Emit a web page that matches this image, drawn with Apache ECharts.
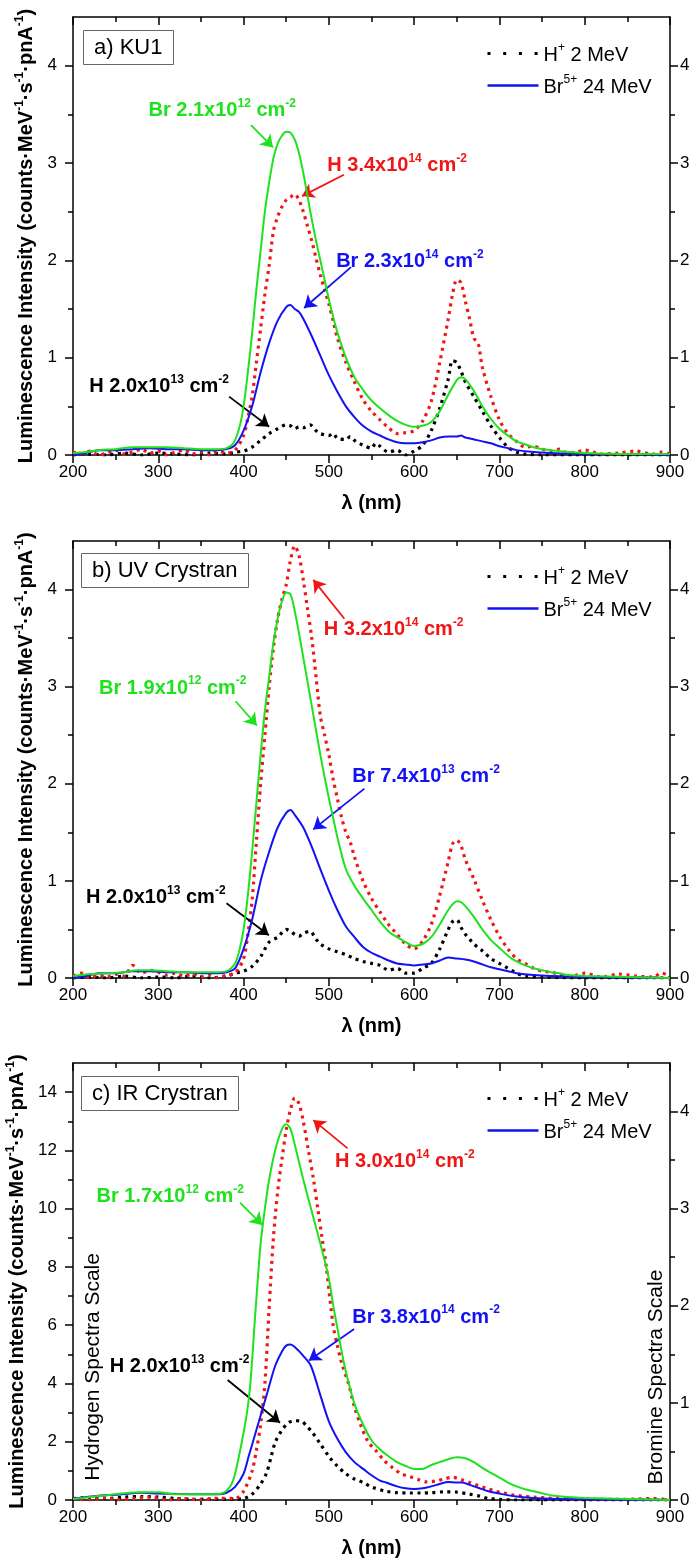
<!DOCTYPE html>
<html>
<head>
<meta charset="utf-8">
<script src="https://cdn.jsdelivr.net/npm/echarts@6/dist/echarts.min.js"></script>
<style>
html,body{margin:0;padding:0;background:#ffffff;}
#chart{width:696px;height:1563px;}
</style>
</head>
<body>
<div id="chart"></div>
<script>
// ---------------- DATA ----------------
const xTickValues = [200, 300, 400, 500, 600, 700, 800, 900];
const yTicksAB = [0, 1, 2, 3, 4];
const yMinorAB = [0.5, 1.5, 2.5, 3.5];
const yTicksCLeft = [0, 2, 4, 6, 8, 10, 12, 14];
const yMinorCLeft = [1, 3, 5, 7, 9, 11, 13];
const yTicksCRight = [0, 1, 2, 3, 4];
const yMinorCRight = [0.5, 1.5, 2.5, 3.5];

const panelLabels = ['a) KU1', 'b) UV Crystran', 'c) IR Crystran'];
const legendNames = ['H+ 2 MeV', 'Br5+ 24 MeV'];

// Panel a) KU1
const kuBrLow = [[200,0.02],[215,0.03],[230,0.05],[250,0.06],[270,0.08],[290,0.08],[310,0.08],[330,0.07],[350,0.06],[370,0.06],[380,0.07],[388,0.12],[395,0.28],[400,0.5],[405,0.85],[410,1.25],[415,1.7],[420,2.1],[425,2.5],[430,2.8],[435,3.05],[440,3.2],[445,3.28],[450,3.32],[455,3.31],[460,3.24],[465,3.1],[470,2.9],[475,2.66],[480,2.42],[485,2.2],[490,2.0],[495,1.8],[500,1.6],[505,1.42],[510,1.26],[520,1.0],[530,0.8],[540,0.67],[550,0.56],[560,0.48],[570,0.41],[580,0.35],[590,0.31],[600,0.29],[610,0.3],[620,0.34],[630,0.45],[640,0.62],[650,0.77],[655,0.8],[660,0.78],[670,0.66],[680,0.5],[690,0.37],[700,0.27],[710,0.2],[720,0.14],[730,0.11],[740,0.08],[750,0.06],[760,0.05],[780,0.03],[800,0.02],[850,0.01],[900,0.01]];
const kuBrHigh = [[200,0.0],[215,0.02],[230,0.05],[250,0.05],[270,0.06],[290,0.07],[310,0.06],[330,0.06],[350,0.05],[370,0.05],[380,0.06],[390,0.1],[400,0.25],[410,0.5],[420,0.85],[430,1.15],[440,1.38],[450,1.52],[455,1.54],[460,1.5],[465,1.47],[470,1.4],[480,1.22],[490,1.02],[500,0.82],[510,0.65],[520,0.5],[530,0.39],[540,0.3],[550,0.24],[560,0.2],[570,0.16],[580,0.13],[590,0.12],[600,0.12],[610,0.13],[620,0.15],[630,0.18],[640,0.19],[650,0.19],[655,0.2],[660,0.18],[670,0.16],[680,0.14],[690,0.12],[700,0.09],[710,0.07],[720,0.05],[740,0.03],[760,0.02],[800,0.01],[850,0.01],[900,0.0]];
const kuHHigh = [[200,0.03],[210,0.01],[220,0.04],[230,0.0],[240,0.02],[250,0.05],[260,0.01],[270,0.03],[280,0.06],[290,0.02],[300,0.04],[310,0.0],[320,0.03],[330,0.05],[340,0.01],[350,0.03],[360,0.0],[370,0.04],[380,0.02],[390,0.05],[400,0.2],[405,0.38],[410,0.6],[415,0.95],[420,1.3],[425,1.65],[430,1.95],[435,2.3],[440,2.45],[445,2.55],[450,2.62],[455,2.65],[460,2.68],[465,2.62],[470,2.5],[475,2.35],[480,2.2],[485,2.02],[490,1.85],[495,1.7],[500,1.55],[505,1.38],[510,1.2],[520,0.95],[530,0.75],[540,0.57],[550,0.45],[560,0.36],[570,0.28],[580,0.22],[590,0.23],[600,0.25],[610,0.35],[620,0.55],[630,0.95],[640,1.4],[645,1.65],[650,1.8],[655,1.77],[660,1.58],[665,1.4],[670,1.2],[675,1.15],[680,0.9],[690,0.6],[700,0.36],[710,0.22],[720,0.14],[730,0.08],[740,0.09],[750,0.06],[760,0.04],[770,0.06],[780,0.02],[790,0.03],[800,0.05],[820,0.01],[840,0.02],[860,0.04],[880,0.01],[890,0.03],[900,0.01]];
const kuHLow = [[200,0.0],[220,0.01],[240,0.0],[260,0.02],[280,0.0],[300,0.02],[320,0.01],[340,0.0],[360,0.02],[380,0.01],[390,0.03],[400,0.04],[410,0.08],[420,0.15],[430,0.22],[440,0.27],[450,0.31],[455,0.3],[460,0.27],[465,0.29],[470,0.28],[478,0.31],[485,0.25],[490,0.22],[500,0.2],[505,0.22],[510,0.17],[520,0.16],[525,0.19],[530,0.15],[540,0.1],[550,0.07],[555,0.12],[560,0.09],[570,0.03],[580,0.05],[590,0.0],[600,0.04],[610,0.1],[620,0.25],[630,0.48],[640,0.78],[645,0.97],[650,0.95],[655,0.86],[660,0.75],[670,0.6],[680,0.45],[690,0.3],[700,0.18],[710,0.08],[720,0.03],[730,0.01],[750,0.0],[800,0.0],[900,0.0]];

// Panel b) UV Crystran
const uvBrLow = [[200,0.02],[220,0.04],[240,0.05],[260,0.06],[275,0.08],[290,0.08],[310,0.07],[330,0.06],[350,0.06],[370,0.06],[380,0.07],[390,0.15],[395,0.28],[400,0.5],[405,0.85],[410,1.3],[415,1.8],[420,2.3],[425,2.75],[430,3.1],[435,3.45],[440,3.7],[445,3.88],[450,3.97],[455,3.95],[460,3.78],[465,3.55],[470,3.3],[475,3.05],[480,2.8],[485,2.55],[490,2.3],[495,2.07],[500,1.85],[505,1.65],[510,1.45],[520,1.12],[530,0.95],[540,0.82],[550,0.7],[560,0.58],[570,0.48],[580,0.42],[590,0.37],[600,0.33],[610,0.35],[620,0.42],[630,0.55],[640,0.7],[650,0.79],[655,0.78],[660,0.74],[670,0.63],[680,0.5],[690,0.39],[700,0.31],[710,0.23],[720,0.17],[730,0.13],[740,0.1],[750,0.08],[760,0.06],[770,0.05],[780,0.03],[800,0.02],[850,0.01],[900,0.0]];
const uvBrHigh = [[200,0.0],[215,0.02],[230,0.05],[250,0.05],[270,0.07],[290,0.07],[310,0.06],[330,0.06],[350,0.05],[370,0.05],[380,0.06],[390,0.1],[400,0.3],[410,0.6],[420,1.0],[430,1.3],[440,1.55],[450,1.7],[455,1.73],[460,1.68],[470,1.55],[480,1.35],[490,1.12],[500,0.9],[510,0.7],[520,0.53],[530,0.42],[540,0.32],[550,0.26],[560,0.22],[570,0.18],[580,0.15],[590,0.14],[600,0.13],[610,0.14],[620,0.15],[630,0.18],[640,0.21],[650,0.2],[660,0.19],[670,0.17],[680,0.14],[690,0.11],[700,0.09],[710,0.07],[720,0.05],[740,0.03],[760,0.02],[800,0.01],[900,0.0]];
const uvHHigh = [[200,0.02],[210,0.05],[220,0.0],[230,0.03],[240,0.01],[250,0.04],[260,0.02],[270,0.13],[280,0.05],[290,0.08],[300,0.06],[310,0.03],[320,0.05],[330,0.02],[340,0.04],[350,0.01],[360,0.03],[370,0.0],[380,0.03],[390,0.05],[400,0.2],[405,0.45],[410,0.8],[415,1.4],[420,2.0],[425,2.5],[430,3.0],[435,3.4],[440,3.7],[445,3.9],[450,4.05],[455,4.3],[460,4.45],[465,4.35],[470,4.1],[475,3.8],[480,3.5],[485,3.1],[490,2.7],[495,2.5],[500,2.3],[505,2.05],[510,1.85],[515,1.65],[520,1.5],[525,1.4],[530,1.25],[540,1.0],[550,0.82],[560,0.68],[570,0.55],[580,0.45],[590,0.35],[600,0.3],[610,0.38],[620,0.55],[630,0.85],[640,1.2],[645,1.38],[650,1.42],[655,1.36],[660,1.22],[670,1.02],[680,0.8],[690,0.6],[700,0.43],[710,0.3],[720,0.2],[730,0.15],[740,0.1],[750,0.07],[760,0.06],[770,0.04],[780,0.02],[790,0.03],[800,0.05],[820,0.01],[840,0.04],[860,0.02],[880,0.01],[890,0.05],[900,0.02]];
const uvHLow = [[200,0.0],[220,0.01],[240,0.0],[260,0.02],[280,0.0],[300,0.01],[320,0.0],[340,0.02],[360,0.0],[380,0.02],[390,0.05],[400,0.07],[410,0.12],[420,0.22],[430,0.37],[440,0.42],[450,0.5],[455,0.48],[460,0.45],[465,0.43],[470,0.46],[478,0.48],[485,0.4],[490,0.35],[500,0.3],[510,0.27],[520,0.24],[530,0.2],[540,0.17],[550,0.15],[560,0.13],[570,0.08],[580,0.1],[590,0.05],[600,0.05],[610,0.1],[620,0.15],[630,0.3],[640,0.5],[645,0.58],[650,0.6],[655,0.52],[660,0.45],[665,0.4],[670,0.35],[680,0.28],[690,0.2],[700,0.15],[710,0.1],[720,0.05],[730,0.02],[750,0.01],[800,0.0],[900,0.0]];

// Panel c) IR Crystran  (Br series on right "Bromine" scale, H series on left "Hydrogen" scale)
const irBrLow = [[200,0.01],[220,0.03],[240,0.05],[260,0.07],[280,0.08],[300,0.08],[320,0.06],[340,0.06],[360,0.06],[375,0.07],[385,0.15],[390,0.27],[398,0.6],[404,0.9],[408,1.2],[414,1.95],[420,2.64],[425,3.0],[430,3.3],[437,3.6],[445,3.82],[450,3.87],[455,3.82],[460,3.66],[470,3.3],[480,2.97],[490,2.64],[500,2.28],[505,2.01],[510,1.77],[515,1.53],[520,1.32],[530,0.99],[540,0.78],[550,0.615],[560,0.52],[570,0.45],[580,0.39],[590,0.35],[600,0.32],[610,0.32],[620,0.36],[630,0.39],[640,0.42],[650,0.44],[660,0.43],[670,0.39],[680,0.33],[690,0.28],[700,0.23],[710,0.18],[720,0.14],[730,0.11],[740,0.09],[750,0.07],[760,0.05],[780,0.03],[800,0.02],[850,0.01],[900,0.0]];
const irBrHigh = [[200,0.015],[230,0.045],[250,0.054],[280,0.075],[300,0.066],[340,0.06],[370,0.06],[380,0.075],[390,0.135],[400,0.27],[406,0.45],[415,0.72],[420,0.87],[427,1.08],[437,1.38],[445,1.53],[450,1.59],[455,1.6],[460,1.575],[470,1.485],[479,1.38],[490,1.08],[500,0.81],[510,0.63],[520,0.49],[530,0.39],[541,0.315],[550,0.255],[560,0.2],[567,0.18],[580,0.14],[590,0.12],[600,0.114],[610,0.12],[620,0.14],[630,0.165],[640,0.186],[650,0.18],[656,0.18],[665,0.156],[675,0.126],[687,0.09],[700,0.066],[720,0.036],[740,0.021],[760,0.012],[800,0.006],[900,0.0]];
const irHHigh = [[200,0.05],[220,0.0],[240,0.08],[250,0.0],[270,0.05],[290,0.1],[310,0.0],[330,0.05],[350,0.0],[370,0.06],[390,0.05],[400,0.3],[410,1.0],[415,1.7],[420,2.6],[425,4.0],[430,6.6],[435,9.0],[440,10.6],[445,11.7],[450,12.7],[455,13.4],[460,13.8],[465,13.6],[470,13.0],[476,12.0],[482,11.0],[487,10.0],[492,9.0],[497,8.0],[505,6.0],[510,5.3],[515,4.7],[523,4.0],[530,3.2],[537,2.6],[546,2.0],[555,1.7],[565,1.35],[575,1.1],[585,0.9],[595,0.8],[605,0.7],[615,0.62],[625,0.65],[635,0.72],[645,0.78],[655,0.7],[665,0.6],[675,0.5],[685,0.4],[695,0.3],[705,0.24],[715,0.18],[725,0.14],[740,0.1],[760,0.06],[780,0.04],[800,0.03],[830,0.02],[860,0.03],[880,0.05],[900,0.0]];
const irHLow = [[200,0.05],[220,0.08],[240,0.05],[260,0.1],[280,0.12],[300,0.1],[320,0.05],[340,0.02],[360,0.03],[380,0.02],[390,0.03],[400,0.05],[410,0.2],[420,0.55],[427,0.93],[432,1.45],[437,1.97],[445,2.4],[453,2.66],[460,2.72],[468,2.7],[475,2.5],[480,2.35],[489,1.97],[500,1.5],[510,1.16],[520,0.9],[530,0.72],[541,0.59],[550,0.45],[567,0.3],[580,0.25],[595,0.24],[609,0.24],[620,0.25],[635,0.28],[650,0.27],[665,0.2],[677,0.13],[687,0.05],[700,0.02],[720,0.0],[800,0.0],[900,0.0]];

// Annotations (text anchor + arrow tail/head, in left-axis data units of each panel)
const annotationsA = [
  {t:'Br 2.1x10^{12} cm^{-2}', c:'green', x:375, y:3.55, a:[408.7,3.39,434.5,3.16]},
  {t:'H 3.4x10^{14} cm^{-2}',  c:'red',   x:580, y:2.99, a:[517.7,2.88,468.5,2.66]},
  {t:'Br 2.3x10^{14} cm^{-2}', c:'blue',  x:595, y:2.0,  a:[526,1.93,471,1.51]},
  {t:'H 2.0x10^{13} cm^{-2}',  c:'black', x:301, y:0.72, a:[383,0.6,430,0.29]}
];
const annotationsB = [
  {t:'H 3.2x10^{14} cm^{-2}',  c:'red',   x:576, y:3.6,  a:[518.2,3.70,481.7,4.10]},
  {t:'Br 1.9x10^{12} cm^{-2}', c:'green', x:317, y:3.0,  a:[390.6,2.85,415.6,2.60]},
  {t:'Br 7.4x10^{13} cm^{-2}', c:'blue',  x:614, y:2.09, a:[541.7,1.95,481.7,1.53]},
  {t:'H 2.0x10^{13} cm^{-2}',  c:'black', x:297, y:0.84, a:[380,0.77,429.7,0.44]}
];
const annotationsC = [
  {t:'H 3.0x10^{14} cm^{-2}',  c:'red',   x:589, y:11.67, a:[522,12.07,481.7,13.04]},
  {t:'Br 1.7x10^{12} cm^{-2}', c:'green', x:314, y:10.47, a:[395.8,10.21,421.8,9.44]},
  {t:'Br 3.8x10^{14} cm^{-2}', c:'blue',  x:614, y:6.33,  a:[529.7,5.87,476.6,4.79]},
  {t:'H 2.0x10^{13} cm^{-2}',  c:'black', x:325, y:4.62,  a:[381.3,4.12,442.7,2.65]}
];
const scaleNotesC = [
  {t:'Hydrogen Spectra Scale', x:223.5, y:4.57},
  {t:'Bromine Spectra Scale',  x:883.5, y:4.22}
];

// ---------------- STYLE / LAYOUT ----------------
const FONT = '"Liberation Sans", Arial, Helvetica, sans-serif';
const COLORS = {green:'#1fe21f', blue:'#1212f2', red:'#f01616', black:'#000000'};
const PANELS = [
  {top:17,   height:438, yMaxL:4.5, yIntL:1, ticksL:yTicksAB,   minorL:yMinorAB,   minorIntL:0.5, yMaxR:4.5, ticksR:yTicksAB,     minorR:yMinorAB,     legendTop:37,   labelTop:30,   labelLeft:83},
  {top:541,  height:437, yMaxL:4.5, yIntL:1, ticksL:yTicksAB,   minorL:yMinorAB,   minorIntL:0.5, yMaxR:4.5, ticksR:yTicksAB,     minorR:yMinorAB,     legendTop:560,  labelTop:553,  labelLeft:81},
  {top:1063, height:437, yMaxL:15,  yIntL:2, ticksL:yTicksCLeft, minorL:yMinorCLeft, minorIntL:1, yMaxR:4.5, ticksR:yTicksCRight, minorR:yMinorCRight, legendTop:1082, labelTop:1076, labelLeft:81}
];
const GRID_LEFT = 73, GRID_WIDTH = 597;

function toRich(str) {
  const parts = str.split(/\^\{([^}]*)\}/);
  let out = '';
  parts.forEach((p, i) => { if (p) out += (i % 2 ? '{s|' : '{n|') + p + '}'; });
  return out;
}
function richStyles(size, weight, color) {
  const ss = Math.round(size * 0.6);
  return {
    n: {fontSize:size, fontWeight:weight, color:color, fontFamily:FONT, lineHeight:size + 3, verticalAlign:'bottom'},
    s: {fontSize:ss, fontWeight:weight, color:color, fontFamily:FONT, lineHeight:ss, verticalAlign:'top'}
  };
}
const AXIS_LINE = {color:'#000', width:1.5};
const Y_TITLE = 'Luminescence Intensity (counts·MeV^{-1}·s^{-1}·pnA^{-1})';
const DOT = [3, 4.5];

const grids = [], xAxes = [], yAxes = [], series = [], legends = [], titles = [];

PANELS.forEach((p, gi) => {
  grids.push({left:GRID_LEFT, top:p.top, width:GRID_WIDTH, height:p.height, outerBoundsMode:'none', containLabel:false});
  const xCommon = {type:'value', gridIndex:gi, min:200, max:900, interval:100, splitLine:{show:false},
    axisLine:{show:true, onZero:false, lineStyle:AXIS_LINE},
    minorTick:{show:true, splitNumber:2, length:5, lineStyle:AXIS_LINE}};
  xAxes.push(Object.assign({}, xCommon, {position:'bottom',
    axisTick:{show:true, length:8, lineStyle:AXIS_LINE},
    axisLabel:{show:true, margin:9, color:'#000', fontSize:17, fontFamily:FONT,
      formatter:v => xTickValues.includes(v) ? String(v) : ''},
    name:'λ (nm)', nameLocation:'middle', nameGap:38,
    nameTextStyle:{fontSize:20, fontWeight:'bold', color:'#000', fontFamily:FONT}}));
  xAxes.push(Object.assign({}, xCommon, {position:'top',
    axisTick:{show:true, inside:true, length:8, lineStyle:AXIS_LINE},
    axisLabel:{show:false}}));

  function mainY(pos, max, interval, ticks, withName) {
    const ax = {type:'value', gridIndex:gi, position:pos, min:0, max:max, interval:interval,
      splitLine:{show:false},
      axisLine:{show:true, onZero:false, lineStyle:AXIS_LINE},
      axisTick:{show:true, length:8, lineStyle:AXIS_LINE, customValues:ticks},
      axisLabel:{show:true, margin:pos === 'left' ? 16 : 10, color:'#000', fontSize:17, fontFamily:FONT,
        customValues:ticks, formatter:v => ticks.includes(v) ? String(v) : ''}};
    if (withName) {
      ax.name = toRich(Y_TITLE);
      ax.nameLocation = 'middle';
      ax.nameGap = 33;
      ax.nameRotate = 90;
      ax.nameTextStyle = {fontSize:20, fontWeight:'bold', color:'#000', fontFamily:FONT, rich:richStyles(20, 'bold', '#000')};
    }
    return ax;
  }
  function minorY(pos, max, interval, vals) {
    return {type:'value', gridIndex:gi, position:pos, min:0, max:max, interval:interval,
      splitLine:{show:false}, axisLine:{show:false}, axisLabel:{show:false},
      axisTick:{show:true, length:5, lineStyle:AXIS_LINE, customValues:vals}};
  }
  yAxes.push(mainY('left', p.yMaxL, p.yIntL, p.ticksL, true));
  yAxes.push(minorY('left', p.yMaxL, p.minorIntL, p.minorL));
  yAxes.push(mainY('right', p.yMaxR, 1, p.ticksR, false));
  yAxes.push(minorY('right', p.yMaxR, 0.5, p.minorR));

  legends.push({show:true, orient:'vertical', left:481, top:p.legendTop, itemWidth:51, itemHeight:14, itemGap:9,
    itemStyle:{opacity:0, borderWidth:0},
    data:[
      {name:legendNames[0], itemStyle:{opacity:0, borderWidth:0}, lineStyle:{type:[3,12.7], width:3, color:'#000', opacity:1}},
      {name:legendNames[1], itemStyle:{opacity:0, borderWidth:0}, lineStyle:{width:2.5, color:COLORS.blue, opacity:1}}
    ],
    formatter:name => name === legendNames[0] ? '{n|H}{s|+}{n| 2 MeV}' : '{n|Br}{s|5+}{n| 24 MeV}',
    textStyle:{fontFamily:FONT, fontSize:20, color:'#000', rich:richStyles(20, 'normal', '#000')},
    selectedMode:false});

  titles.push({text:panelLabels[gi], left:p.labelLeft, top:p.labelTop, padding:[5, 11, 5, 11],
    borderColor:'#666', borderWidth:1,
    textStyle:{fontSize:22, fontWeight:'normal', color:'#000', fontFamily:FONT, lineHeight:25}});
});

function lineSeries(name, data, gi, yIdx, color, dotted, z) {
  return {type:'line', name:name, xAxisIndex:gi * 2, yAxisIndex:gi * 4 + yIdx, data:data,
    showSymbol:false, symbol:'none', smooth:0.3, silent:true, z:z,
    lineStyle:{color:color, width:dotted ? 3.2 : 2, type:dotted ? DOT : 'solid'},
    itemStyle:{color:color}};
}
const panelSeries = [
  [kuHLow, kuHHigh, kuBrHigh, kuBrLow, 0],
  [uvHLow, uvHHigh, uvBrHigh, uvBrLow, 0],
  [irHLow, irHHigh, irBrHigh, irBrLow, 2]
];
panelSeries.forEach((s, gi) => {
  const brAxis = s[4];
  series.push(lineSeries(legendNames[0], s[0], gi, 0, COLORS.black, true, 3));
  series.push(lineSeries('H high ' + gi, s[1], gi, 0, COLORS.red, true, 4));
  series.push(lineSeries(legendNames[1], s[2], gi, brAxis, COLORS.blue, false, 5));
  series.push(lineSeries('Br low ' + gi, s[3], gi, brAxis, COLORS.green, false, 6));
});

function annotationSeries(gi, a, idx) {
  const col = COLORS[a.c];
  return {type:'line', name:'ann' + gi + '_' + idx, xAxisIndex:gi * 2, yAxisIndex:gi * 4, data:[], silent:true, z:10,
    markLine:{silent:true, animation:false, symbol:['none', 'arrow'], symbolSize:12,
      label:{show:false}, lineStyle:{color:col, width:1.8, type:'solid'}, emphasis:{disabled:true},
      data:[[{coord:[a.a[0], a.a[1]]}, {coord:[a.a[2], a.a[3]]}]]},
    markPoint:{silent:true, animation:false, symbol:'rect', symbolSize:1, itemStyle:{color:'rgba(0,0,0,0)'},
      label:{show:true, position:'inside', formatter:toRich(a.t), rich:richStyles(20, 'bold', col)},
      data:[{coord:[a.x, a.y], value:0}]}};
}
[annotationsA, annotationsB, annotationsC].forEach((list, gi) => {
  list.forEach((a, i) => series.push(annotationSeries(gi, a, i)));
});
series.push({type:'line', name:'scaleNotes', xAxisIndex:4, yAxisIndex:8, data:[], silent:true, z:10,
  markPoint:{silent:true, animation:false, symbol:'rect', symbolSize:1, itemStyle:{color:'rgba(0,0,0,0)'},
    label:{show:true, position:'inside', rotate:90, fontSize:21, fontFamily:FONT, color:'#000',
      formatter:p => p.name},
    data:scaleNotesC.map(n => ({name:n.t, coord:[n.x, n.y], value:0}))}});

const chart = echarts.init(document.getElementById('chart'), null, {renderer:'canvas'});
chart.setOption({
  animation:false,
  backgroundColor:'#ffffff',
  title:titles,
  legend:legends,
  grid:grids,
  xAxis:xAxes,
  yAxis:yAxes,
  series:series
});
</script>
</body>
</html>
